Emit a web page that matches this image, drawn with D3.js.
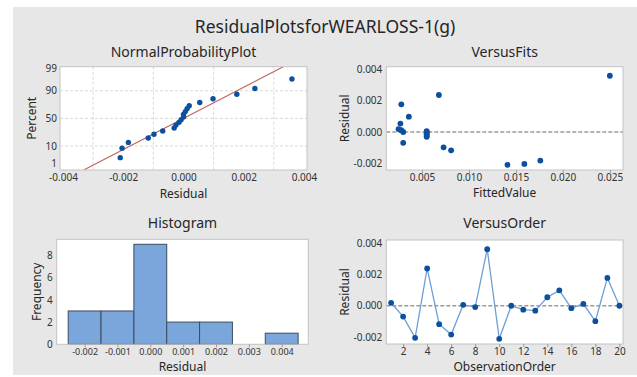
<!DOCTYPE html>
<html><head><meta charset="utf-8">
<script src="https://cdn.jsdelivr.net/npm/d3@7/dist/d3.min.js"></script>
<style>
html,body{margin:0;padding:0;background:#fff;}
svg{display:block;font-family:"Noto Sans","Open Sans",sans-serif;}
</style></head>
<body>
<svg id="c" width="637" height="377"></svg>
<script>
// ---------- data ----------
const mainTitle = "ResidualPlotsforWEARLOSS-1(g)";
// residuals in observation order
const obsOrder = [1,2,3,4,5,6,7,8,9,10,11,12,13,14,15,16,17,18,19,20];
const obsResidual = [0.00019,-0.00069,-0.00204,0.00237,-0.00117,-0.00183,0.00006,-0.00008,0.0036,-0.0021,
                     0.0000,-0.00025,-0.00031,0.00054,0.00098,-0.00015,0.00012,-0.00098,0.00177,0.0000];
// fitted values matching the residuals above
const obsFitted = [0.0025,0.0030,0.0159,0.0068,0.0081,0.0176,0.0055,0.0055,0.0250,0.0141,
                   0.0030,0.0055,0.0055,0.0027,0.0036,0.0055,0.0028,0.0073,0.0028,0.0055];
// normal probability plot points
const npResidual = [-0.0021,-0.00204,-0.00183,-0.00117,-0.00098,-0.00069,-0.00031,-0.00025,-0.00015,-0.00008,
                    0.0000,0.0000,0.00006,0.00012,0.00019,0.00054,0.00098,0.00177,0.00237,0.0036];
const npPercent = [3.4,8.3,13.2,18.1,23.0,27.9,32.8,37.7,42.6,47.5,52.5,57.4,62.3,67.2,72.1,77.0,81.9,86.8,91.7,96.6];
const fitMean = 0.0, fitSd = 0.00138;
// histogram
const histCenters = [-0.002,-0.001,0.000,0.001,0.002,0.003,0.004];
const histCounts = [3,3,9,2,2,0,1];
const histBinWidth = 0.001;
// tick labels
const npXTicks = [-0.004,-0.002,0.000,0.002,0.004];
const npYTicks = [1,10,50,90,99];
const npXGrid = [-0.003,-0.001,0.001,0.003];
const npYGrid = [10,50,90];
const vfXTicks = [0.005,0.010,0.015,0.020,0.025];
const resTicks = [-0.002,0.000,0.002,0.004];
const histYTicks = [0,2,4,6,8];
const voXTicks = [2,4,6,8,10,12,14,16,18,20];

// ---------- helpers ----------
const svg = d3.select("#c");
const probit = p => {
  const a=[-39.69683028665376,220.9460984245205,-275.9285104469687,138.3577518672690,-30.66479806614716,2.506628277459239];
  const b=[-54.47609879822406,161.5858368580409,-155.6989798598866,66.80131188771972,-13.28068155288572];
  const c=[-0.007784894002430293,-0.3223964580411365,-2.400758277161838,-2.549732539343734,4.374664141464968,2.938163982698783];
  const d=[0.007784695709041462,0.3224671290700398,2.445134137142996,3.754408661907416];
  const pl=0.02425;
  let q,r;
  if(p<pl){q=Math.sqrt(-2*Math.log(p));return (((((c[0]*q+c[1])*q+c[2])*q+c[3])*q+c[4])*q+c[5])/((((d[0]*q+d[1])*q+d[2])*q+d[3])*q+1);}
  if(p>1-pl){q=Math.sqrt(-2*Math.log(1-p));return -(((((c[0]*q+c[1])*q+c[2])*q+c[3])*q+c[4])*q+c[5])/((((d[0]*q+d[1])*q+d[2])*q+d[3])*q+1);}
  q=p-0.5;r=q*q;return (((((a[0]*r+a[1])*r+a[2])*r+a[3])*r+a[4])*r+a[5])*q/(((((b[0]*r+b[1])*r+b[2])*r+b[3])*r+b[4])*r+1);
};
const fmt3 = d => d3.format(".3f")(d).replace("\u2212","-");
const TXT = "#262626", TICK = "#333";
const DOT = "#0b4f9e";

svg.append("rect").attr("x",0).attr("y",0).attr("width",637).attr("height",377).attr("fill","#fff");
svg.append("rect").attr("x",13).attr("y",7).attr("width",624).attr("height",368).attr("fill","#e7e7e7");

svg.append("text").attr("x",325).attr("y",33).attr("text-anchor","middle")
  .attr("font-size",17.5).attr("fill",TXT).text(mainTitle);

function panel(box, title, xlab, ylab, titleY, xlabY, ylabX){
  const g = svg.append("g");
  g.append("rect").attr("x",box.x0).attr("y",box.y0).attr("width",box.x1-box.x0).attr("height",box.y1-box.y0)
    .attr("fill","#fff");
  svg.append("text").attr("x",(box.x0+box.x1)/2).attr("y",titleY).attr("text-anchor","middle")
    .attr("font-size",14).attr("fill",TXT).text(title);
  svg.append("text").attr("x",(box.x0+box.x1)/2).attr("y",xlabY).attr("text-anchor","middle")
    .attr("font-size",12).attr("fill",TXT).text(xlab);
  const cy=(box.y0+box.y1)/2;
  svg.append("text").attr("transform",`translate(${ylabX},${cy}) rotate(-90)`).attr("text-anchor","middle")
    .attr("dy","0.35em").attr("font-size",12).attr("fill",TXT).text(ylab);
  return g;
}
function frame(box){
  svg.append("rect").attr("x",box.x0).attr("y",box.y0).attr("width",box.x1-box.x0).attr("height",box.y1-box.y0)
    .attr("fill","none").attr("stroke","#c4c4c4").attr("stroke-width",1);
}
function styleAxis(sel, fs){
  sel.select(".domain").remove();
  sel.selectAll(".tick line").attr("stroke","#9a9a9a");
  sel.selectAll(".tick text").attr("fill",TICK).attr("font-size",fs||10)
     .attr("font-family",'"Noto Sans","Open Sans",sans-serif');
}

// ---------- Normal probability plot ----------
{
  const box={x0:60,x1:307,y0:66.7,y1:170};
  const g=panel(box,"NormalProbabilityPlot","Residual","Percent",56.5,198,32);
  const x=d3.scaleLinear().domain([-0.0041,0.0041]).range([box.x0,box.x1]);
  const zmax=2.40;
  const y=d3.scaleLinear().domain([-zmax,zmax]).range([box.y1,box.y0]);
  const yp=p=>y(probit(p/100));
  g.selectAll(".vg").data(npXGrid).join("line").attr("x1",d=>x(d)).attr("x2",d=>x(d))
    .attr("y1",box.y0).attr("y2",box.y1).attr("stroke","#d9d9d9").attr("stroke-dasharray","3,2");
  g.selectAll(".hg").data(npYGrid).join("line").attr("y1",d=>yp(d)).attr("y2",d=>yp(d))
    .attr("x1",box.x0).attr("x2",box.x1).attr("stroke","#d9d9d9").attr("stroke-dasharray","3,2");
  svg.append("clipPath").attr("id","npclip").append("rect")
    .attr("x",box.x0).attr("y",box.y0).attr("width",box.x1-box.x0).attr("height",box.y1-box.y0);
  g.append("line").attr("clip-path","url(#npclip)")
    .attr("x1",x(fitMean-zmax*fitSd)).attr("y1",y(-zmax))
    .attr("x2",x(fitMean+zmax*fitSd)).attr("y2",y(zmax))
    .attr("stroke","#c0605a").attr("stroke-width",1.1);
  frame(box);
  g.selectAll(".pt").data(npResidual).join("circle").attr("cx",d=>x(d)).attr("cy",(d,i)=>yp(npPercent[i]))
    .attr("r",2.7).attr("fill",DOT);
  const ax=svg.append("g").attr("transform",`translate(0,${box.y1})`)
    .call(d3.axisBottom(x).tickValues(npXTicks).tickFormat(fmt3).tickSize(0).tickPadding(4));
  styleAxis(ax);
  const zTicks=npYTicks.map(p=>probit(p/100));
  const ay=svg.append("g").attr("transform",`translate(${box.x0},0)`)
    .call(d3.axisLeft(y).tickValues(zTicks).tickFormat((d,i)=>String(npYTicks[i])).tickSize(0).tickPadding(3));
  styleAxis(ay);
  // lowest label sits slightly above the frame corner, as in the reference
  ay.selectAll(".tick text").filter((d,i)=>i===0).attr("dy","-0.15em");
}

// ---------- Versus Fits ----------
const resDomain=[-0.00243,0.00418];
{
  const box={x0:386.3,x1:623,y0:66.7,y1:170};
  const g=panel(box,"VersusFits","FittedValue","Residual",56.5,197,344.5);
  const x=d3.scaleLinear().domain([0.0012,0.0264]).range([box.x0,box.x1]);
  const y=d3.scaleLinear().domain(resDomain).range([box.y1,box.y0]);
  g.append("line").attr("x1",box.x0).attr("x2",box.x1).attr("y1",y(0)).attr("y2",y(0))
    .attr("stroke","#9a9a9a").attr("stroke-width",1.3).attr("stroke-dasharray","4,2");
  frame(box);
  g.selectAll(".pt").data(obsFitted).join("circle").attr("cx",d=>x(d)).attr("cy",(d,i)=>y(obsResidual[i]))
    .attr("r",2.9).attr("fill",DOT);
  const ax=svg.append("g").attr("transform",`translate(0,${box.y1})`)
    .call(d3.axisBottom(x).tickValues(vfXTicks).tickFormat(fmt3).tickSize(3).tickPadding(1));
  styleAxis(ax);
  const ay=svg.append("g").attr("transform",`translate(${box.x0},0)`)
    .call(d3.axisLeft(y).tickValues(resTicks).tickFormat(fmt3).tickSize(0).tickPadding(4));
  styleAxis(ay);
}

// ---------- Histogram ----------
{
  const box={x0:56.7,x1:308.3,y0:239.3,y1:344.3};
  const g=panel(box,"Histogram","Residual","Frequency",227.5,371,37);
  const x=d3.scaleLinear().domain([-0.00285,0.00481]).range([box.x0,box.x1]);
  const y=d3.scaleLinear().domain([0,9.45]).range([box.y1,box.y0]);
  frame(box);
  g.selectAll(".bar").data(histCenters).join("rect")
    .attr("x",d=>x(d-histBinWidth/2)).attr("width",d=>x(d+histBinWidth/2)-x(d-histBinWidth/2))
    .attr("y",(d,i)=>y(histCounts[i])).attr("height",(d,i)=>y(0)-y(histCounts[i]))
    .attr("fill","#7aa6dc").attr("stroke","#3d4b5e").attr("stroke-width",1);
  const ax=svg.append("g").attr("transform",`translate(0,${box.y1})`)
    .call(d3.axisBottom(x).tickValues(histCenters).tickFormat(fmt3).tickSize(3).tickPadding(1));
  styleAxis(ax, 9);
  const ay=svg.append("g").attr("transform",`translate(${box.x0},0)`)
    .call(d3.axisLeft(y).tickValues(histYTicks).tickFormat(d3.format("d")).tickSize(0).tickPadding(4));
  styleAxis(ay);
}

// ---------- Versus Order ----------
{
  const box={x0:386.3,x1:623,y0:240,y1:344};
  const g=panel(box,"VersusOrder","ObservationOrder","Residual",227.5,371,344.5);
  const x=d3.scaleLinear().domain([0.6,20.3]).range([box.x0,box.x1]);
  const y=d3.scaleLinear().domain(resDomain).range([box.y1,box.y0]);
  g.append("line").attr("x1",box.x0).attr("x2",box.x1).attr("y1",y(0)).attr("y2",y(0))
    .attr("stroke","#9a9a9a").attr("stroke-width",1.3).attr("stroke-dasharray","4,2");
  frame(box);
  const line=d3.line().x((d,i)=>x(obsOrder[i])).y(d=>y(d));
  g.append("path").datum(obsResidual).attr("d",line).attr("fill","none")
    .attr("stroke","#6d9fd6").attr("stroke-width",1.3);
  g.selectAll(".pt").data(obsResidual).join("circle").attr("cx",(d,i)=>x(obsOrder[i])).attr("cy",d=>y(d))
    .attr("r",2.9).attr("fill",DOT);
  const ax=svg.append("g").attr("transform",`translate(0,${box.y1})`)
    .call(d3.axisBottom(x).tickValues(voXTicks).tickSize(3).tickPadding(1));
  styleAxis(ax);
  const ay=svg.append("g").attr("transform",`translate(${box.x0},0)`)
    .call(d3.axisLeft(y).tickValues(resTicks).tickFormat(fmt3).tickSize(0).tickPadding(4));
  styleAxis(ay);
}
</script>
</body></html>
